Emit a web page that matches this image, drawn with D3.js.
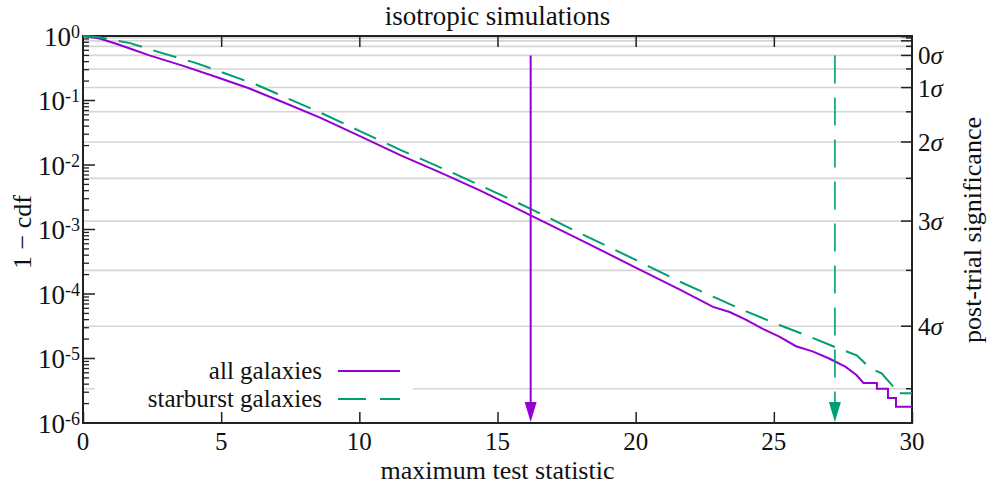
<!DOCTYPE html>
<html>
<head>
<meta charset="utf-8">
<script src="https://cdn.jsdelivr.net/npm/d3@7"></script>
</head>
<body style="margin:0;background:#fff">
<div id="chart"></div>
<script>

//////////////////////
//// data
//////////////////

const allTS = [0, 0.6, 1.2, 1.8, 2.4, 3.6, 4.8, 6.0, 7.2, 8.6, 10.0, 11.5, 13.0, 14.4, 16.2, 18.0, 20.0, 21.6,
    22.8, 23.4, 24.0, 24.6, 25.2, 25.8, 26.4, 27.0, 27.6, 28.0, 28.24, 28.73, 28.73, 29.13, 29.13, 29.42, 29.42, 30]
const allP = [1, 0.912, 0.759, 0.617, 0.501, 0.347, 0.234, 0.155, 0.0955, 0.0537, 0.0282, 0.0141, 0.00741, 0.00398, 0.00166, 6.92e-4, 2.57e-4, 1.17e-4,
    6.31e-5, 5.25e-5, 3.98e-5, 2.88e-5, 2.19e-5, 1.55e-5, 1.29e-5, 1.0e-5, 7.41e-6, 5.5e-6, 4.17e-6, 4.17e-6, 3.39e-6, 3.39e-6, 2.45e-6, 2.45e-6, 1.78e-6, 1.78e-6]

const sbTS = [0, 0.6, 1.7, 2.9, 4.1, 5.2, 6.3, 7.2, 8.6, 10.0, 11.5, 13.0, 14.4, 16.2, 18.0, 20.0, 21.6,
    22.8, 24.0, 25.2, 26.4, 27.3, 28.0, 28.48, 28.9, 29.33, 29.39, 30]
const sbP = [1, 0.955, 0.776, 0.537, 0.38, 0.257, 0.174, 0.118, 0.0646, 0.0339, 0.017, 0.00891, 0.00479, 0.00209, 8.71e-4, 3.39e-4, 1.55e-4,
    9.12e-5, 5.37e-5, 3.31e-5, 2.09e-5, 1.45e-5, 1.12e-5, 7.08e-6, 5.89e-6, 3.63e-6, 2.88e-6, 2.88e-6]

const seriesNames = ["all galaxies", "starburst galaxies"]
const seriesColors = ["#9400d3", "#009e73"]
const observedTS = [16.2, 27.21]   // arrows

const xTicks = [0, 5, 10, 15, 20, 25, 30]
const yDecades = [0, -1, -2, -3, -4, -5, -6]
const sigmaLabels = [0, 1, 2, 3, 4]
const sigmaTicks = [-2, -1.5, -1, -0.5, 0, 0.5, 1, 1.5, 2, 2.5, 3, 3.5, 4, 4.5]


//////////////////////
//// setup
//////////////////

const W = 987, H = 486
const m = { l: 83, r: 912, t: 36, b: 423 }
const serif = "Liberation Serif"

const svg = d3.select("#chart").append("svg").attr("width", W).attr("height", H)
svg.append("rect").attr("width", W).attr("height", H).attr("fill", "#fff")

var x = d3.scaleLinear().domain([0, 30]).range([m.l, m.r])
var y = d3.scaleLog().domain([1e-6, 1]).range([m.b, m.t])

// one sided gaussian tail -> p value (numerical recipes erfc)
function erfc(v) {
    var z = Math.abs(v), t = 1 / (1 + 0.5 * z)
    var r = t * Math.exp(-z * z - 1.26551223 + t * (1.00002368 + t * (0.37409196 + t * (0.09678418 +
        t * (-0.18628806 + t * (0.27886807 + t * (-1.13520398 + t * (1.48851587 + t * (-0.82215223 + t * 0.17087277)))))))))
    return v >= 0 ? r : 2 - r
}
const sigmaP = s => 0.5 * erfc(s / Math.SQRT2)


//////////////////////
//// grid (on the sigma levels)
//////////////////

svg.append("g").selectAll("line")
    .data(sigmaTicks)
    .enter().append("line")
    .attr("x1", m.l).attr("x2", m.r)
    .attr("y1", d => y(sigmaP(d))).attr("y2", d => y(sigmaP(d)))
    .attr("stroke", "#d6d6d6").attr("stroke-width", 1.6)

// opaque legend box hides the grid behind it
svg.append("rect").attr("x", 95).attr("y", 357).attr("width", 318).attr("height", 59).attr("fill", "#fff")


//////////////////////
//// axes
//////////////////

const axisCol = "#222"

// x ticks bottom + top, pointing in (labels drawn by hand below)
svg.append("g").attr("transform", `translate(0,${m.b})`)
    .call(d3.axisBottom(x).tickValues(xTicks).tickSizeInner(-11).tickSizeOuter(0).tickFormat(""))
    .call(g => g.select(".domain").remove())
    .call(g => g.selectAll("line").attr("stroke", axisCol).attr("stroke-width", 1.5))

svg.append("g").attr("transform", `translate(0,${m.t})`)
    .call(d3.axisTop(x).tickValues(xTicks.slice(1, -1)).tickSizeInner(-11).tickSizeOuter(0).tickFormat(""))
    .call(g => g.select(".domain").remove())
    .call(g => g.selectAll("line").attr("stroke", axisCol).attr("stroke-width", 1.5))

svg.append("g").selectAll("text").data(xTicks).enter().append("text")
    .attr("x", d => x(d)).attr("y", 450).attr("text-anchor", "middle")
    .attr("font-size", 25).text(d => d)

// y log ticks on the left
var minors = []
yDecades.slice(1).forEach(e => { for (var k = 2; k <= 9; k++) minors.push(k * Math.pow(10, e)) })

svg.append("g").selectAll("line.min").data(minors).enter().append("line")
    .attr("x1", m.l).attr("x2", m.l + 6)
    .attr("y1", d => y(d)).attr("y2", d => y(d))
    .attr("stroke", axisCol).attr("stroke-width", 1.3)

svg.append("g").selectAll("line.maj").data(yDecades).enter().append("line")
    .attr("x1", m.l).attr("x2", m.l + 12)
    .attr("y1", d => y(Math.pow(10, d))).attr("y2", d => y(Math.pow(10, d)))
    .attr("stroke", axisCol).attr("stroke-width", 1.5)

var ylab = svg.append("g").selectAll("text").data(yDecades).enter().append("text")
    .attr("x", 80).attr("y", d => y(Math.pow(10, d)))
    .attr("dy", "0.36em").attr("text-anchor", "end").attr("font-size", 27)
ylab.append("tspan").text("10")
ylab.append("tspan").attr("dy", "-0.45em").attr("font-size", 18).text(d => d === 0 ? "0" : "-" + (-d))

// right axis: post-trial sigma
svg.append("g").selectAll("line").data(sigmaTicks).enter().append("line")
    .attr("x1", d => Number.isInteger(d) ? m.r - 11 : m.r - 6).attr("x2", m.r)
    .attr("y1", d => y(sigmaP(d))).attr("y2", d => y(sigmaP(d)))
    .attr("stroke", axisCol).attr("stroke-width", 1.5)

var slab = svg.append("g").selectAll("text").data(sigmaLabels).enter().append("text")
    .attr("x", 918).attr("y", d => y(sigmaP(d))).attr("dy", "0.36em").attr("font-size", 25)
slab.append("tspan").text(d => d)
slab.append("tspan").attr("font-style", "italic").text("σ")

// frame
svg.append("rect").attr("x", m.l).attr("y", m.t).attr("width", m.r - m.l).attr("height", m.b - m.t)
    .attr("fill", "none").attr("stroke", axisCol).attr("stroke-width", 2)


//////////////////////
//// curves
//////////////////

var line = d3.line().x(d => x(d[0])).y(d => y(d[1]))

const series = [d3.zip(allTS, allP), d3.zip(sbTS, sbP)]

svg.append("path").datum(series[0]).attr("d", line)
    .attr("fill", "none").attr("stroke", seriesColors[0]).attr("stroke-width", 2)

svg.append("path").datum(series[1]).attr("d", line)
    .attr("fill", "none").attr("stroke", seriesColors[1]).attr("stroke-width", 2)
    .attr("stroke-dasharray", "24,12")

// arrows from 0 sigma down to the axis
observedTS.forEach((ts, i) => {
    var ax = x(ts), headH = 21, headW = 6
    svg.append("line")
        .attr("x1", ax).attr("x2", ax).attr("y1", y(sigmaP(0))).attr("y2", m.b - headH)
        .attr("stroke", seriesColors[i]).attr("stroke-width", i ? 1.6 : 2)
        .attr("stroke-dasharray", i ? "28,14" : null)
    svg.append("path")
        .attr("d", `M${ax - headW},${m.b - headH}L${ax + headW},${m.b - headH}L${ax},${m.b - 1}Z`)
        .attr("fill", seriesColors[i])
})


//////////////////////
//// legend + labels
//////////////////

const legY = [371, 399]
seriesNames.forEach((n, i) => {
    svg.append("text").attr("x", 322).attr("y", legY[i]).attr("dy", "0.33em")
        .attr("text-anchor", "end").attr("font-size", 25).text(n)
    svg.append("line").attr("x1", 338).attr("x2", 400).attr("y1", legY[i]).attr("y2", legY[i])
        .attr("stroke", seriesColors[i]).attr("stroke-width", 2)
        .attr("stroke-dasharray", i ? "28,14" : null)
})

svg.append("text").attr("x", (m.l + m.r) / 2).attr("y", 25).attr("text-anchor", "middle")
    .attr("font-size", 27).text("isotropic simulations")

svg.append("text").attr("x", (m.l + m.r) / 2).attr("y", 479).attr("text-anchor", "middle")
    .attr("font-size", 26).text("maximum test statistic")

svg.append("text").attr("transform", "translate(31,232) rotate(-90)").attr("text-anchor", "middle")
    .attr("font-size", 26).text("1 − cdf")

svg.append("text").attr("transform", "translate(981,230) rotate(-90)").attr("text-anchor", "middle")
    .attr("font-size", 26).text("post-trial significance")

// one font name, set inline on every text
svg.selectAll("text").style("font-family", serif).style("fill", "#111")

</script>
</body>
</html>
